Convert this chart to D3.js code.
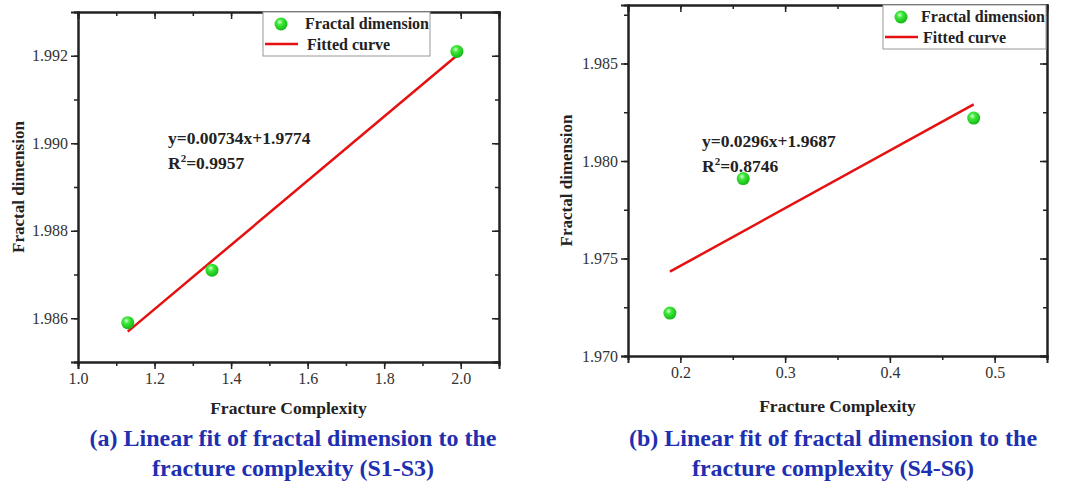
<!DOCTYPE html>
<html>
<head>
<meta charset="utf-8">
<script src="https://cdn.jsdelivr.net/npm/d3@7"></script>
<style>
  body { margin: 0; background: #fff; }
  text { font-family: "Liberation Serif", "Times New Roman", serif; }
  .axis path, .axis line { stroke: #222; }
</style>
</head>
<body>
<script>
// panel (a) data: S1-S3
const complexityA = [1.13, 1.35, 1.99],
      fractalA = [1.9859, 1.9871, 1.9921],
      fitA = {slope: 0.00734, intercept: 1.9774},
      xTicksA = [1.0, 1.2, 1.4, 1.6, 1.8, 2.0],
      yTicksA = [1.986, 1.988, 1.990, 1.992];

// panel (b) data: S4-S6
const complexityB = [0.19, 0.26, 0.48],
      fractalB = [1.9722, 1.9791, 1.9822],
      fitB = {slope: 0.0296, intercept: 1.9687},
      xTicksB = [0.2, 0.3, 0.4, 0.5],
      yTicksB = [1.970, 1.975, 1.980, 1.985];

const svg = d3.select("body").append("svg")
              .attr("width", 1083)
              .attr("height", 481);

// sphere-like gradient for the green markers
const grad = svg.append("defs").append("radialGradient")
                .attr("id", "ball").attr("cx", "40%").attr("cy", "35%").attr("r", "65%");
grad.append("stop").attr("offset", "0%").attr("stop-color", "#d8ffd0");
grad.append("stop").attr("offset", "35%").attr("stop-color", "#3ee83a");
grad.append("stop").attr("offset", "100%").attr("stop-color", "#13b814");

const serif = "'Liberation Serif', 'Times New Roman', serif";

function drawPanel(p) {
  const x = d3.scaleLinear().domain(p.xDomain).range([p.left, p.right]),
        y = d3.scaleLinear().domain(p.yDomain).range([p.bottom, p.top]);

  const g = svg.append("g");

  // minor ticks (all four sides)
  const xMinor = d3.range(p.xDomain[0], p.xDomain[1] + 1e-9, p.xMinorStep),
        yMinor = d3.range(p.yDomain[0], p.yDomain[1] + 1e-9, p.yMinorStep);

  // bottom / left: ticks outward
  g.append("g").attr("class", "axis")
   .attr("transform", "translate(0," + p.bottom + ")")
   .call(d3.axisBottom(x).tickValues(xMinor).tickSize(4).tickFormat(""));
  g.append("g").attr("class", "axis")
   .attr("transform", "translate(" + p.left + ",0)")
   .call(d3.axisLeft(y).tickValues(yMinor).tickSize(4).tickFormat(""));
  // top / right: ticks inward
  g.append("g").attr("class", "axis")
   .attr("transform", "translate(0," + p.top + ")")
   .call(d3.axisTop(x).tickValues(xMinor).tickSize(-4).tickFormat(""));
  g.append("g").attr("class", "axis")
   .attr("transform", "translate(" + p.right + ",0)")
   .call(d3.axisRight(y).tickValues(yMinor).tickSize(-4).tickFormat(""));

  g.append("g").attr("class", "axis")
   .attr("transform", "translate(0," + p.bottom + ")")
   .call(d3.axisBottom(x).tickValues(p.xTicks).tickSize(7).tickPadding(4).tickFormat(d3.format(p.xFormat)));
  g.append("g").attr("class", "axis")
   .attr("transform", "translate(" + p.left + ",0)")
   .call(d3.axisLeft(y).tickValues(p.yTicks).tickSize(7).tickPadding(3).tickFormat(d3.format(".3f")));
  g.append("g").attr("class", "axis")
   .attr("transform", "translate(0," + p.top + ")")
   .call(d3.axisTop(x).tickValues(p.xTicks).tickSize(-7).tickFormat(""));
  g.append("g").attr("class", "axis")
   .attr("transform", "translate(" + p.right + ",0)")
   .call(d3.axisRight(y).tickValues(p.yTicks).tickSize(-7).tickFormat(""));

  g.selectAll(".axis").attr("font-family", serif).attr("font-size", 16);
  g.selectAll(".axis text").attr("fill", "#333");
  g.selectAll(".axis path").attr("stroke-width", 2);
  g.selectAll(".axis line").attr("stroke-width", 1.5);

  // fitted line
  const xs = [d3.min(p.xs), d3.max(p.xs)];
  g.append("line")
   .attr("x1", x(xs[0])).attr("y1", y(p.fit.slope * xs[0] + p.fit.intercept))
   .attr("x2", x(xs[1])).attr("y2", y(p.fit.slope * xs[1] + p.fit.intercept))
   .attr("stroke", "#e51010").attr("stroke-width", 2.5);

  // points
  g.selectAll("circle.pt").data(p.xs).join("circle")
   .attr("class", "pt")
   .attr("cx", d => x(d))
   .attr("cy", (d, i) => y(p.ys[i]))
   .attr("r", 6.5)
   .attr("fill", "url(#ball)");

  // equation
  const eq = g.append("text")
              .attr("x", p.eqX).attr("y", p.eqY)
              .attr("font-weight", "bold").attr("font-size", 17.5).attr("fill", "#222");
  eq.append("tspan").text("y=" + p.fit.slope + "x+" + p.fit.intercept);
  const r2 = g.append("text")
              .attr("x", p.eqX).attr("y", p.eqY + 25)
              .attr("font-weight", "bold").attr("font-size", 17.5).attr("fill", "#222");
  r2.append("tspan").text("R");
  r2.append("tspan").attr("font-size", 11).attr("dy", -7).text("2");
  r2.append("tspan").attr("dy", 7).text("=" + p.r2);

  // legend
  const lg = g.append("g");
  lg.append("rect")
    .attr("x", p.legX).attr("y", p.top)
    .attr("width", p.legW).attr("height", 44)
    .attr("fill", "#fff").attr("stroke", "#999").attr("stroke-width", 1);
  lg.append("circle")
    .attr("cx", p.legX + 18).attr("cy", p.top + 12).attr("r", 6.5)
    .attr("fill", "url(#ball)");
  lg.append("line")
    .attr("x1", p.legX + 2).attr("x2", p.legX + 35)
    .attr("y1", p.top + 32).attr("y2", p.top + 32)
    .attr("stroke", "#e51010").attr("stroke-width", 2.5);
  lg.append("text").attr("x", p.legX + p.legDx).attr("y", p.top + 17)
    .attr("font-weight", "bold").attr("font-size", 16).attr("fill", "#222")
    .text("Fractal dimension");
  lg.append("text").attr("x", p.legX + p.legDx + 2).attr("y", p.top + 38)
    .attr("font-weight", "bold").attr("font-size", 16).attr("fill", "#222")
    .text("Fitted curve");

  // axis titles
  g.append("text")
   .attr("transform", "translate(" + p.yLabX + "," + ((p.top + p.bottom) / 2) + ") rotate(-90)")
   .attr("text-anchor", "middle").attr("font-weight", "bold").attr("font-size", 17).attr("fill", "#222")
   .text("Fractal dimension");
  g.append("text")
   .attr("x", (p.left + p.right) / 2).attr("y", p.xLabY)
   .attr("text-anchor", "middle").attr("font-weight", "bold").attr("font-size", 17.5).attr("fill", "#222")
   .text("Fracture Complexity");

  // caption
  p.caption.forEach((c, i) => {
    g.append("text")
     .attr("x", p.capX).attr("y", 446 + i * 30)
     .attr("text-anchor", "middle").attr("font-weight", "bold").attr("font-size", 24)
     .attr("fill", "#1f2fb0")
     .text(c);
  });
}

drawPanel({
  xs: complexityA, ys: fractalA, fit: fitA, r2: "0.9957",
  xDomain: [1.0, 2.1], yDomain: [1.985, 1.993],
  xTicks: xTicksA, yTicks: yTicksA, xMinorStep: 0.1, yMinorStep: 0.001, xFormat: ".1f",
  left: 78, right: 499, top: 12, bottom: 362,
  eqX: 168, eqY: 144,
  legX: 263, legW: 167, legDx: 42,
  yLabX: 24, xLabY: 414,
  capX: 293,
  caption: ["(a) Linear fit of fractal dimension to the", "fracture complexity (S1-S3)"]
});

drawPanel({
  xs: complexityB, ys: fractalB, fit: fitB, r2: "0.8746",
  xDomain: [0.15, 0.55], yDomain: [1.970, 1.988],
  xTicks: xTicksB, yTicks: yTicksB, xMinorStep: 0.05, yMinorStep: 0.0025, xFormat: ".1f",
  left: 628, right: 1047, top: 5, bottom: 356,
  eqX: 702, eqY: 147,
  legX: 883, legW: 163, legDx: 38,
  yLabX: 572, xLabY: 412,
  capX: 833,
  caption: ["(b) Linear fit of fractal dimension to the", "fracture complexity (S4-S6)"]
});
</script>
</body>
</html>
